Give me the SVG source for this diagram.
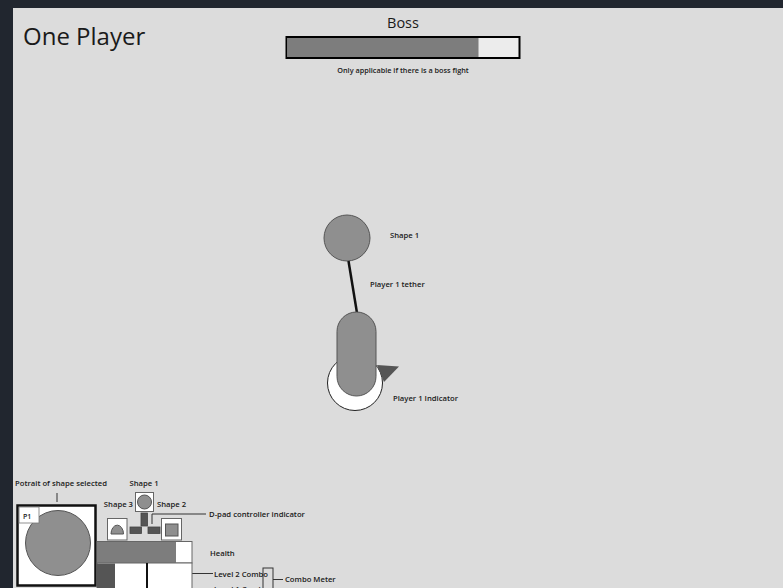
<svg xmlns="http://www.w3.org/2000/svg" width="783" height="588" viewBox="0 0 783 588">
<style>
text{font-family:"Open Sans","Liberation Sans",sans-serif;fill:#1a1a1a}
.lbl{font-size:7.7px;font-weight:600}
.shape{fill:#8f8f8f;stroke:#555;stroke-width:1}
.box{fill:#fff;stroke:#666;stroke-width:1}
.dark{fill:#555;stroke:#444;stroke-width:0.8}
.conn{stroke:#333;stroke-width:1;fill:none}
</style>
<rect width="783" height="588" fill="#21262f"/>
<rect x="13" y="8" width="770" height="580" fill="#dcdcdc"/>
<text id="title" x="23" y="45" font-size="24" fill="#1a1a1a">One Player</text>

<g id="boss">
<text x="403" y="28" font-size="14.5" text-anchor="middle">Boss</text>
<rect x="286.5" y="37" width="233" height="21" fill="#ececec" stroke="#000" stroke-width="2"/>
<rect x="287.5" y="38" width="191" height="19" fill="#7d7d7d"/>
<text class="lbl" x="403" y="73" style="font-size:7.3px" text-anchor="middle">Only applicable if there is a boss fight</text>
</g>

<g id="shape1">
<circle class="shape" cx="347" cy="238" r="23"/>
<text class="lbl" x="390" y="238">Shape 1</text>
</g>

<g id="indicator">
<circle cx="355" cy="383" r="27.5" fill="#fff" stroke="#222" stroke-width="1"/>
<polygon points="377,365 399,366.5 384,382" fill="#555"/>
<text class="lbl" x="393" y="401">Player 1 Indicator</text>
</g>

<g id="connectors">
<line x1="348.5" y1="261" x2="357" y2="313" stroke="#111" stroke-width="2.5"/>
<line class="conn" x1="57" y1="493" x2="57" y2="502"/>
<polyline class="conn" points="152,524 152,514 206,514"/>
<line class="conn" x1="128.5" y1="574" x2="128.5" y2="588"/>
<line class="conn" x1="170" y1="573.5" x2="213" y2="573.5"/>
<rect x="263" y="568" width="10" height="24" fill="none" stroke="#333" stroke-width="1"/>
<line class="conn" x1="273" y1="579.5" x2="283" y2="579.5"/>
</g>

<g id="player">
<rect class="shape" x="337" y="312" width="39" height="84" rx="19.5"/>
<text class="lbl" x="370" y="287">Player 1 tether</text>
</g>

<g id="portrait">
<text class="lbl" x="15" y="486">Potrait of shape selected</text>
<rect x="17.5" y="505.5" width="78" height="80" fill="#fff" stroke="#111" stroke-width="2.5"/>
<circle class="shape" cx="58" cy="543" r="32.5"/>
<rect x="19" y="507" width="20" height="16" fill="#fff" stroke="#777" stroke-width="0.8"/>
<text x="23" y="519" font-size="7" font-weight="600">P1</text>
</g>

<g id="dpad">
<text class="lbl" x="144" y="486" text-anchor="middle">Shape 1</text>
<text class="lbl" x="133" y="507" text-anchor="end">Shape 3</text>
<text class="lbl" x="157" y="507">Shape 2</text>
<rect class="box" x="135.5" y="492.5" width="18" height="19"/>
<circle class="shape" cx="144.5" cy="502" r="7"/>
<rect class="dark" x="141" y="513" width="6.5" height="13"/>
<rect class="dark" x="130" y="527" width="11.5" height="6.5"/>
<rect class="dark" x="148" y="527" width="12" height="6.5"/>
<rect class="box" x="107.5" y="518.5" width="19.5" height="21.5"/>
<path class="shape" d="M111,534 A6,8.5 0 0 1 123.5,534 Z"/>
<rect class="box" x="161.5" y="518.5" width="20" height="21.5"/>
<rect class="shape" x="165.5" y="524" width="12.5" height="12"/>
<text class="lbl" x="209" y="517">D-pad controller indicator</text>
</g>

<g id="health">
<rect class="box" x="97" y="541.5" width="95" height="21.5"/>
<rect x="97" y="542" width="79" height="21" fill="#7d7d7d"/>
<text class="lbl" x="210" y="556">Health</text>
</g>

<g id="combo">
<rect class="box" x="97" y="563" width="95" height="27"/>
<rect x="97" y="563.5" width="18" height="26" fill="#555"/>
<rect x="146" y="563" width="2" height="26" fill="#111"/>
<text class="lbl" x="214" y="576.5">Level 2 Combo</text>
<text class="lbl" x="214" y="592">Level 1 Combo</text>
<text class="lbl" x="285" y="582">Combo Meter</text>
</g>
</svg>
